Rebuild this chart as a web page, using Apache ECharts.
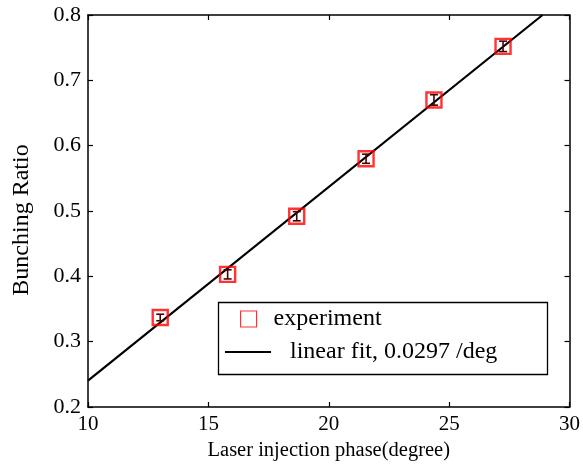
<!DOCTYPE html>
<html>
<head>
<meta charset="utf-8">
<script src="https://cdn.jsdelivr.net/npm/echarts@6/dist/echarts.min.js"></script>
<style>
html,body{margin:0;padding:0;background:#fff;}
#chart{width:583px;height:468px;}
</style>
</head>
<body>
<div id="chart"></div>
<script>
// Data
var phase = [13.0, 15.8, 18.67, 21.55, 24.37, 27.24];
var ratio = [0.337, 0.403, 0.492, 0.580, 0.670, 0.752];
var ratioErr = [0.005, 0.007, 0.007, 0.007, 0.008, 0.008];
var fitX = [10, 28.88];
var fitY = [0.2403, 0.800];
var xTicks = [10, 15, 20, 25, 30];
var yTicks = [0.2, 0.3, 0.4, 0.5, 0.6, 0.7, 0.8];
var legendNames = ['experiment', 'linear fit, 0.0297 /deg'];

var FONT = 'Liberation Serif';
var expData = phase.map(function (x, i) { return [x, ratio[i]]; });
var errData = phase.map(function (x, i) { return [x, ratio[i] - ratioErr[i], ratio[i] + ratioErr[i]]; });
var fitData = fitX.map(function (x, i) { return [x, fitY[i]]; });

var chart = echarts.init(document.getElementById('chart'));
var axisLine = { show: true, lineStyle: { color: '#000', width: 1.5 } };
var axisTick = { show: true, inside: true, length: 5, lineStyle: { color: '#000', width: 1.2 } };

var option = {
  animation: false,
  backgroundColor: '#fff',
  textStyle: { fontFamily: FONT },
  grid: { left: 88, right: 12, top: 15, bottom: 61 },
  xAxis: [{
    type: 'value', min: xTicks[0], max: xTicks[xTicks.length - 1], interval: 5,
    axisLine: axisLine, axisTick: axisTick, splitLine: { show: false },
    axisLabel: { color: '#000', fontFamily: FONT, fontSize: 21, margin: 7 },
    name: 'Laser injection phase(degree)', nameLocation: 'middle', nameGap: 27,
    nameTextStyle: { color: '#000', fontFamily: FONT, fontSize: 20.5 }
  }, {
    type: 'value', position: 'top', min: xTicks[0], max: xTicks[xTicks.length - 1], interval: 5,
    axisLine: axisLine, axisTick: axisTick, splitLine: { show: false }, axisLabel: { show: false }
  }],
  yAxis: [{
    type: 'value', min: yTicks[0], max: yTicks[yTicks.length - 1], interval: 0.1,
    axisLine: axisLine, axisTick: axisTick, splitLine: { show: false },
    axisLabel: { color: '#000', fontFamily: FONT, fontSize: 22, margin: 7,
      formatter: function (v) { return v.toFixed(1); } },
    name: 'Bunching Ratio', nameLocation: 'middle', nameGap: 54,
    nameTextStyle: { color: '#000', fontFamily: FONT, fontSize: 24, padding: [0, 18, 0, 0] }
  }, {
    type: 'value', position: 'right', min: yTicks[0], max: yTicks[yTicks.length - 1], interval: 0.1,
    axisLine: axisLine, axisTick: axisTick, splitLine: { show: false }, axisLabel: { show: false }
  }],
  legend: [{
    data: [{ name: legendNames[0], icon: 'rect',
      itemStyle: { color: 'rgba(0,0,0,0)', borderColor: '#ff0000', borderWidth: 1.2 } }],
    left: 240, top: 307, itemWidth: 16, itemHeight: 16, padding: 0,
    textStyle: { color: '#000', fontFamily: FONT, fontSize: 24, padding: [0, 0, 0, 12] },
    selectedMode: false
  }, {
    data: [{ name: legendNames[1], icon: 'rect', itemStyle: { color: '#000' } }],
    left: 225, top: 340, itemWidth: 46, itemHeight: 2, padding: 0,
    textStyle: { color: '#000', fontFamily: FONT, fontSize: 24, padding: [0, 0, 0, 14] },
    selectedMode: false
  }],
  graphic: [{
    type: 'rect', left: 216, top: 300, z: 100,
    shape: { width: 329, height: 72 },
    style: { fill: 'none', stroke: '#000', lineWidth: 1.3 }
  }],
  series: [{
    name: legendNames[1], type: 'line', data: fitData, showSymbol: false, symbol: 'none',
    lineStyle: { color: '#000', width: 2.2 }, z: 2
  }, {
    name: legendNames[0], type: 'scatter', data: expData, symbol: 'rect', symbolSize: 15,
    itemStyle: { color: 'rgba(0,0,0,0)', borderColor: '#ff0000', borderWidth: 2.4 }, z: 3
  }, {
    name: 'err', type: 'custom', data: errData, z: 4,
    renderItem: function (params, api) {
      var x = api.value(0);
      var lo = api.coord([x, api.value(1)]);
      var hi = api.coord([x, api.value(2)]);
      var w = 4;
      var st = { stroke: '#4a0000', lineWidth: 1.6 };
      return { type: 'group', children: [
        { type: 'line', shape: { x1: lo[0], y1: lo[1], x2: hi[0], y2: hi[1] }, style: st },
        { type: 'line', shape: { x1: lo[0] - w, y1: lo[1], x2: lo[0] + w, y2: lo[1] }, style: st },
        { type: 'line', shape: { x1: hi[0] - w, y1: hi[1], x2: hi[0] + w, y2: hi[1] }, style: st }
      ] };
    }
  }]
};
chart.setOption(option);
</script>
</body>
</html>
